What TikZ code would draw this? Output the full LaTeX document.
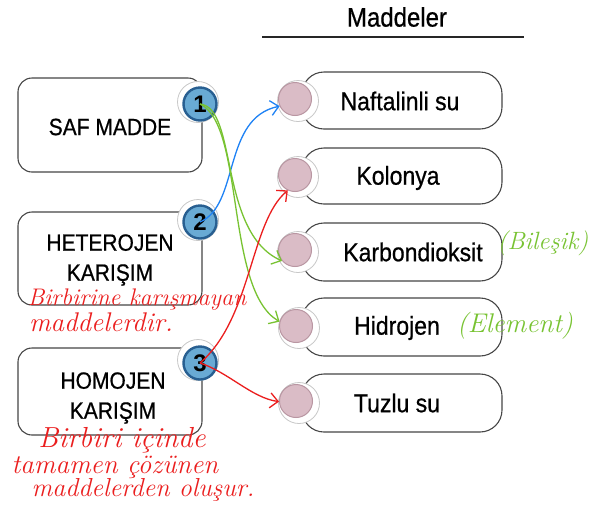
\documentclass[tikz,border=0pt]{standalone}
\usepackage{fontspec}
\usepackage{graphicx}
\newfontfamily\arialf[FakeBold=0.7]{Liberation Sans}
\newfontfamily\arialn{Liberation Sans}
\usetikzlibrary{arrows.meta}
\newcommand{\talltxt}[1]{\scalebox{1}[1.12]{#1}}
\definecolor{boxgray}{RGB}{70,70,70}
\definecolor{numblue}{RGB}{105,170,212}
\definecolor{numrim}{RGB}{40,95,145}
\definecolor{pinkfill}{RGB}{218,188,198}
\definecolor{pinkrim}{RGB}{185,150,162}
\definecolor{haloc}{RGB}{200,200,200}
\definecolor{bluearr}{RGB}{30,130,245}
\definecolor{greenarr}{RGB}{120,195,50}
\definecolor{redarr}{RGB}{235,30,30}
\tikzset{
  lbox/.style={draw=boxgray, line width=1.1pt, rounded corners=14pt, minimum width=184pt, inner sep=0pt},
  rbox/.style={draw=boxgray, line width=1.1pt, rounded corners=22pt, minimum width=200pt, inner sep=0pt},
  halo/.style={circle, fill=white, draw=haloc, line width=0.8pt, minimum size=41pt, inner sep=0pt},
  numc/.style={circle, fill=numblue, draw=numrim, line width=2.4pt, minimum size=33pt, inner sep=0pt, font=\arialn\bfseries\fontsize{24}{24}\selectfont},
  pinkc/.style={circle, fill=pinkfill, draw=pinkrim, line width=1pt, minimum size=33pt, inner sep=0pt},
  ptxt/.style={font=\arialf\fontsize{21}{30}\selectfont, align=center, inner sep=0pt},
  rtxt/.style={font=\arialf\fontsize{23}{30}\selectfont, align=center, inner sep=0pt},
  hw/.style={font=\itshape\fontsize{24}{24}\selectfont, inner sep=0pt},
  arr/.style={line width=1.3pt, -{Straight Barb[length=8pt, width=15pt, line width=1.3pt]}}
}
\begin{document}
\begin{tikzpicture}[x=1pt, y=-1pt]
\useasboundingbox (0,0) rectangle (607,507);
\fill[white] (0,0) rectangle (607,507);
% header
\node[rtxt, font=\arialf\fontsize{24}{24}\selectfont] (hdr) at (397,17) {\talltxt{Maddeler}};
\coordinate (hl) at (262,37);
\coordinate (hr) at (524,37);
\draw[line width=2pt, black!85] (hl) -- (hr);
% left boxes
\node[lbox, minimum height=94pt] (box1) at (110,125) {};
\node[lbox, minimum height=93pt] (box2) at (110,258.5) {};
\node[lbox, minimum height=87pt] (box3) at (110,391.5) {};
\node[ptxt] (t1) at (110,127) {\talltxt{SAF MADDE}};
\node[ptxt] (t2) at (110,260) {\talltxt{HETEROJEN}\\\talltxt{KARIŞIM}};
\node[ptxt] (t3) at (113,398) {\talltxt{HOMOJEN}\\\talltxt{KARIŞIM}};
% number circles
\node[halo] (h1) at (198,102) {};
\node[halo] (h2) at (198,220) {};
\node[halo] (h3) at (198,360) {};
\node[numc] (n1) at (200,104) {1};
\node[numc] (n2) at (200,222) {2};
\node[numc] (n3) at (200,363) {3};
% right boxes
\node[rbox, minimum height=57pt] (r1) at (402,100.5) {};
\node[rbox, minimum height=56pt] (r2) at (402,176) {};
\node[rbox, minimum height=58pt] (r3) at (402,252) {};
\node[rbox, minimum height=58pt] (r4) at (402,327) {};
\node[rbox, minimum height=58pt] (r5) at (402,403) {};
\node[rtxt] (s1) at (400,101) {\talltxt{Naftalinli su}};
\node[rtxt] (s2) at (398,178) {\talltxt{Kolonya}};
\node[rtxt] (s3) at (413,252) {\talltxt{Karbondioksit}};
\node[rtxt] (s4) at (397,328) {\talltxt{Hidrojen}};
\node[rtxt] (s5) at (397,403) {\talltxt{Tuzlu su}};
% pink circles
\node[halo] (g1) at (298,101) {};
\node[halo] (g2) at (298,177) {};
\node[halo] (g3) at (298,252) {};
\node[halo] (g4) at (299,328) {};
\node[halo] (g5) at (299,403) {};
\node[pinkc] (p1) at (295,99) {};
\node[pinkc] (p2) at (295,175) {};
\node[pinkc] (p3) at (295,250) {};
\node[pinkc] (p4) at (296,326) {};
\node[pinkc] (p5) at (296,401) {};
% arrows
\draw[arr, bluearr] (n2.center) .. controls (240,205) and (222,118) .. (p1.205);
\draw[arr, greenarr] (n1.center) .. controls (238,108) and (218,232) .. (p3.220);
\draw[arr, greenarr] (n1.center) .. controls (245,125) and (225,290) .. (p4.165);
\draw[arr, redarr] (n3.center) .. controls (252,318) and (250,222) .. (p2.245);
\draw[arr, redarr] (n3.center) .. controls (228,372) and (252,398) .. (p5.182);
% handwriting
\node[hw, text=redarr] (w1) at (137,300) {Birbirine karışmayan};
\node[hw, text=redarr, font=\itshape\fontsize{27}{27}\selectfont] (w2) at (101,322) {maddelerdir.};
\node[hw, text=redarr, font=\itshape\fontsize{29}{29}\selectfont] (w3) at (122,440) {Birbiri içinde};
\node[hw, text=redarr, font=\itshape\fontsize{27}{27}\selectfont] (w4) at (115,467) {tamamen çözünen};
\node[hw, text=redarr, font=\itshape\fontsize{26}{26}\selectfont] (w5) at (143,490) {maddelerden oluşur.};
\node[hw, text=greenarr, font=\itshape\fontsize{25}{25}\selectfont] (w6) at (543,243) {(Bileşik)};
\node[hw, text=greenarr, font=\itshape\fontsize{27}{27}\selectfont] (w7) at (515,326) {(Element)};
\end{tikzpicture}
\end{document}
